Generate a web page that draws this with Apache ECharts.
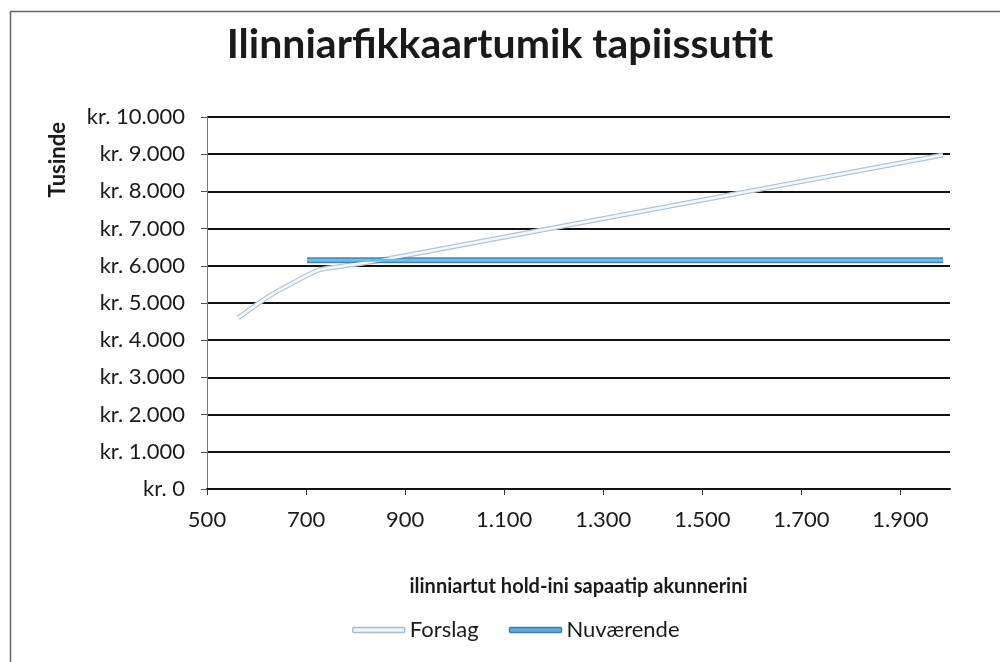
<!DOCTYPE html>
<html>
<head>
<meta charset="utf-8">
<script src="https://cdn.jsdelivr.net/npm/echarts@6/dist/echarts.min.js"></script>
<style>
html,body{margin:0;padding:0;background:#fff;}
#chart{width:1000px;height:662px;}
</style>
</head>
<body>
<div id="chart"></div>
<script>
var titleText = 'Ilinniarfikkaartumik tapiissutit';
var yAxisTitle = 'Tusinde';
var xAxisTitle = 'ilinniartut hold-ini sapaatip akunnerini';
var seriesNames = ['Forslag', 'Nuværende'];

var forslagX = [563, 627, 724, 770, 850, 1986];
var forslagY = [4600, 5200, 5880, 5980, 6150, 8980];

var nuvaerendeX = [702, 1986];
var nuvaerendeY = [6150, 6150];

var xMin = 500, xMax = 2000, xStep = 200;
var yMin = 0, yMax = 10000, yStep = 1000;

function pairs(xs, ys) { return xs.map(function (x, i) { return [x, ys[i]]; }); }
function dk(n) { return String(n).replace(/\B(?=(\d{3})+(?!\d))/g, '.'); }

var FONT = 'Lato';
var chart = echarts.init(document.getElementById('chart'));
chart.setOption({
  backgroundColor: '#ffffff',
  animation: false,
  title: {
    text: titleText,
    left: 'center',
    top: 19,
    textStyle: { fontFamily: FONT, fontWeight: 'bold', fontSize: 41, color: '#1a1a1a' }
  },
  grid: { left: 207, right: 50, top: 117, bottom: 173 },
  legend: {
    data: [
      { name: seriesNames[0], itemStyle: { color: '#eef4fa', borderColor: '#a9bccf', borderWidth: 1.5 } },
      { name: seriesNames[1], itemStyle: { color: '#5aaedc', borderColor: '#3f7fae', borderWidth: 1.5 } }
    ],
    icon: 'roundRect',
    bottom: 16,
    left: 347,
    itemWidth: 52,
    itemHeight: 5,
    itemGap: 30,
    textStyle: { fontFamily: FONT, fontSize: 22, color: '#1a1a1a' }
  },
  xAxis: {
    type: 'value',
    min: xMin, max: xMax, interval: xStep,
    name: xAxisTitle,
    nameLocation: 'middle',
    nameGap: 88,
    nameTextStyle: { fontFamily: FONT, fontWeight: 'bold', fontSize: 20, color: '#1a1a1a' },
    axisLine: { show: true, lineStyle: { color: '#111', width: 2 } },
    axisTick: { show: true, length: 6, lineStyle: { color: '#333' } },
    splitLine: { show: false },
    axisLabel: { fontFamily: FONT, fontSize: 22, color: '#1a1a1a', margin: 20, showMaxLabel: false,
      formatter: function (v) { return dk(v); } }
  },
  yAxis: {
    type: 'value',
    min: yMin, max: yMax, interval: yStep,
    axisLine: { show: true, lineStyle: { color: '#777', width: 1 } },
    axisTick: { show: true, length: 6, lineStyle: { color: '#555' } },
    splitLine: { show: true, lineStyle: { color: '#111', width: 2 } },
    axisLabel: { fontFamily: FONT, fontSize: 22, color: '#1a1a1a', margin: 22,
      formatter: function (v) { return 'kr. ' + dk(v); } }
  },
  series: [
    { name: seriesNames[0], type: 'line', data: pairs(forslagX, forslagY), symbol: 'none', smooth: 0.2,
      lineStyle: { color: '#b4c5d6', width: 5 }, itemStyle: { color: '#b9cde0' }, z: 3 },
    { name: seriesNames[0], type: 'line', data: pairs(forslagX, forslagY), symbol: 'none', smooth: 0.2,
      lineStyle: { color: '#f4f8fc', width: 2.5 }, itemStyle: { color: '#b9cde0' }, z: 4 },
    { name: seriesNames[1], type: 'line', data: pairs(nuvaerendeX, nuvaerendeY), symbol: 'none',
      lineStyle: { color: '#3f86b8', width: 6 }, itemStyle: { color: '#4d9fd3' }, z: 3 },
    { name: seriesNames[1], type: 'line', data: pairs(nuvaerendeX, nuvaerendeY), symbol: 'none',
      lineStyle: { color: '#6cbce6', width: 3 }, itemStyle: { color: '#4d9fd3' }, z: 4 }
  ],
  graphic: [
    { type: 'rect', left: 8, top: 9, shape: { width: 1000, height: 700 },
      style: { fill: 'none', stroke: '#666', lineWidth: 1.5 }, silent: true },
    { type: 'text', left: 47, top: 122, rotation: Math.PI / 2,
      style: { text: yAxisTitle, fontFamily: FONT, fontWeight: 'bold', fontSize: 22, fill: '#1a1a1a' } }
  ]
});
</script>
</body>
</html>
